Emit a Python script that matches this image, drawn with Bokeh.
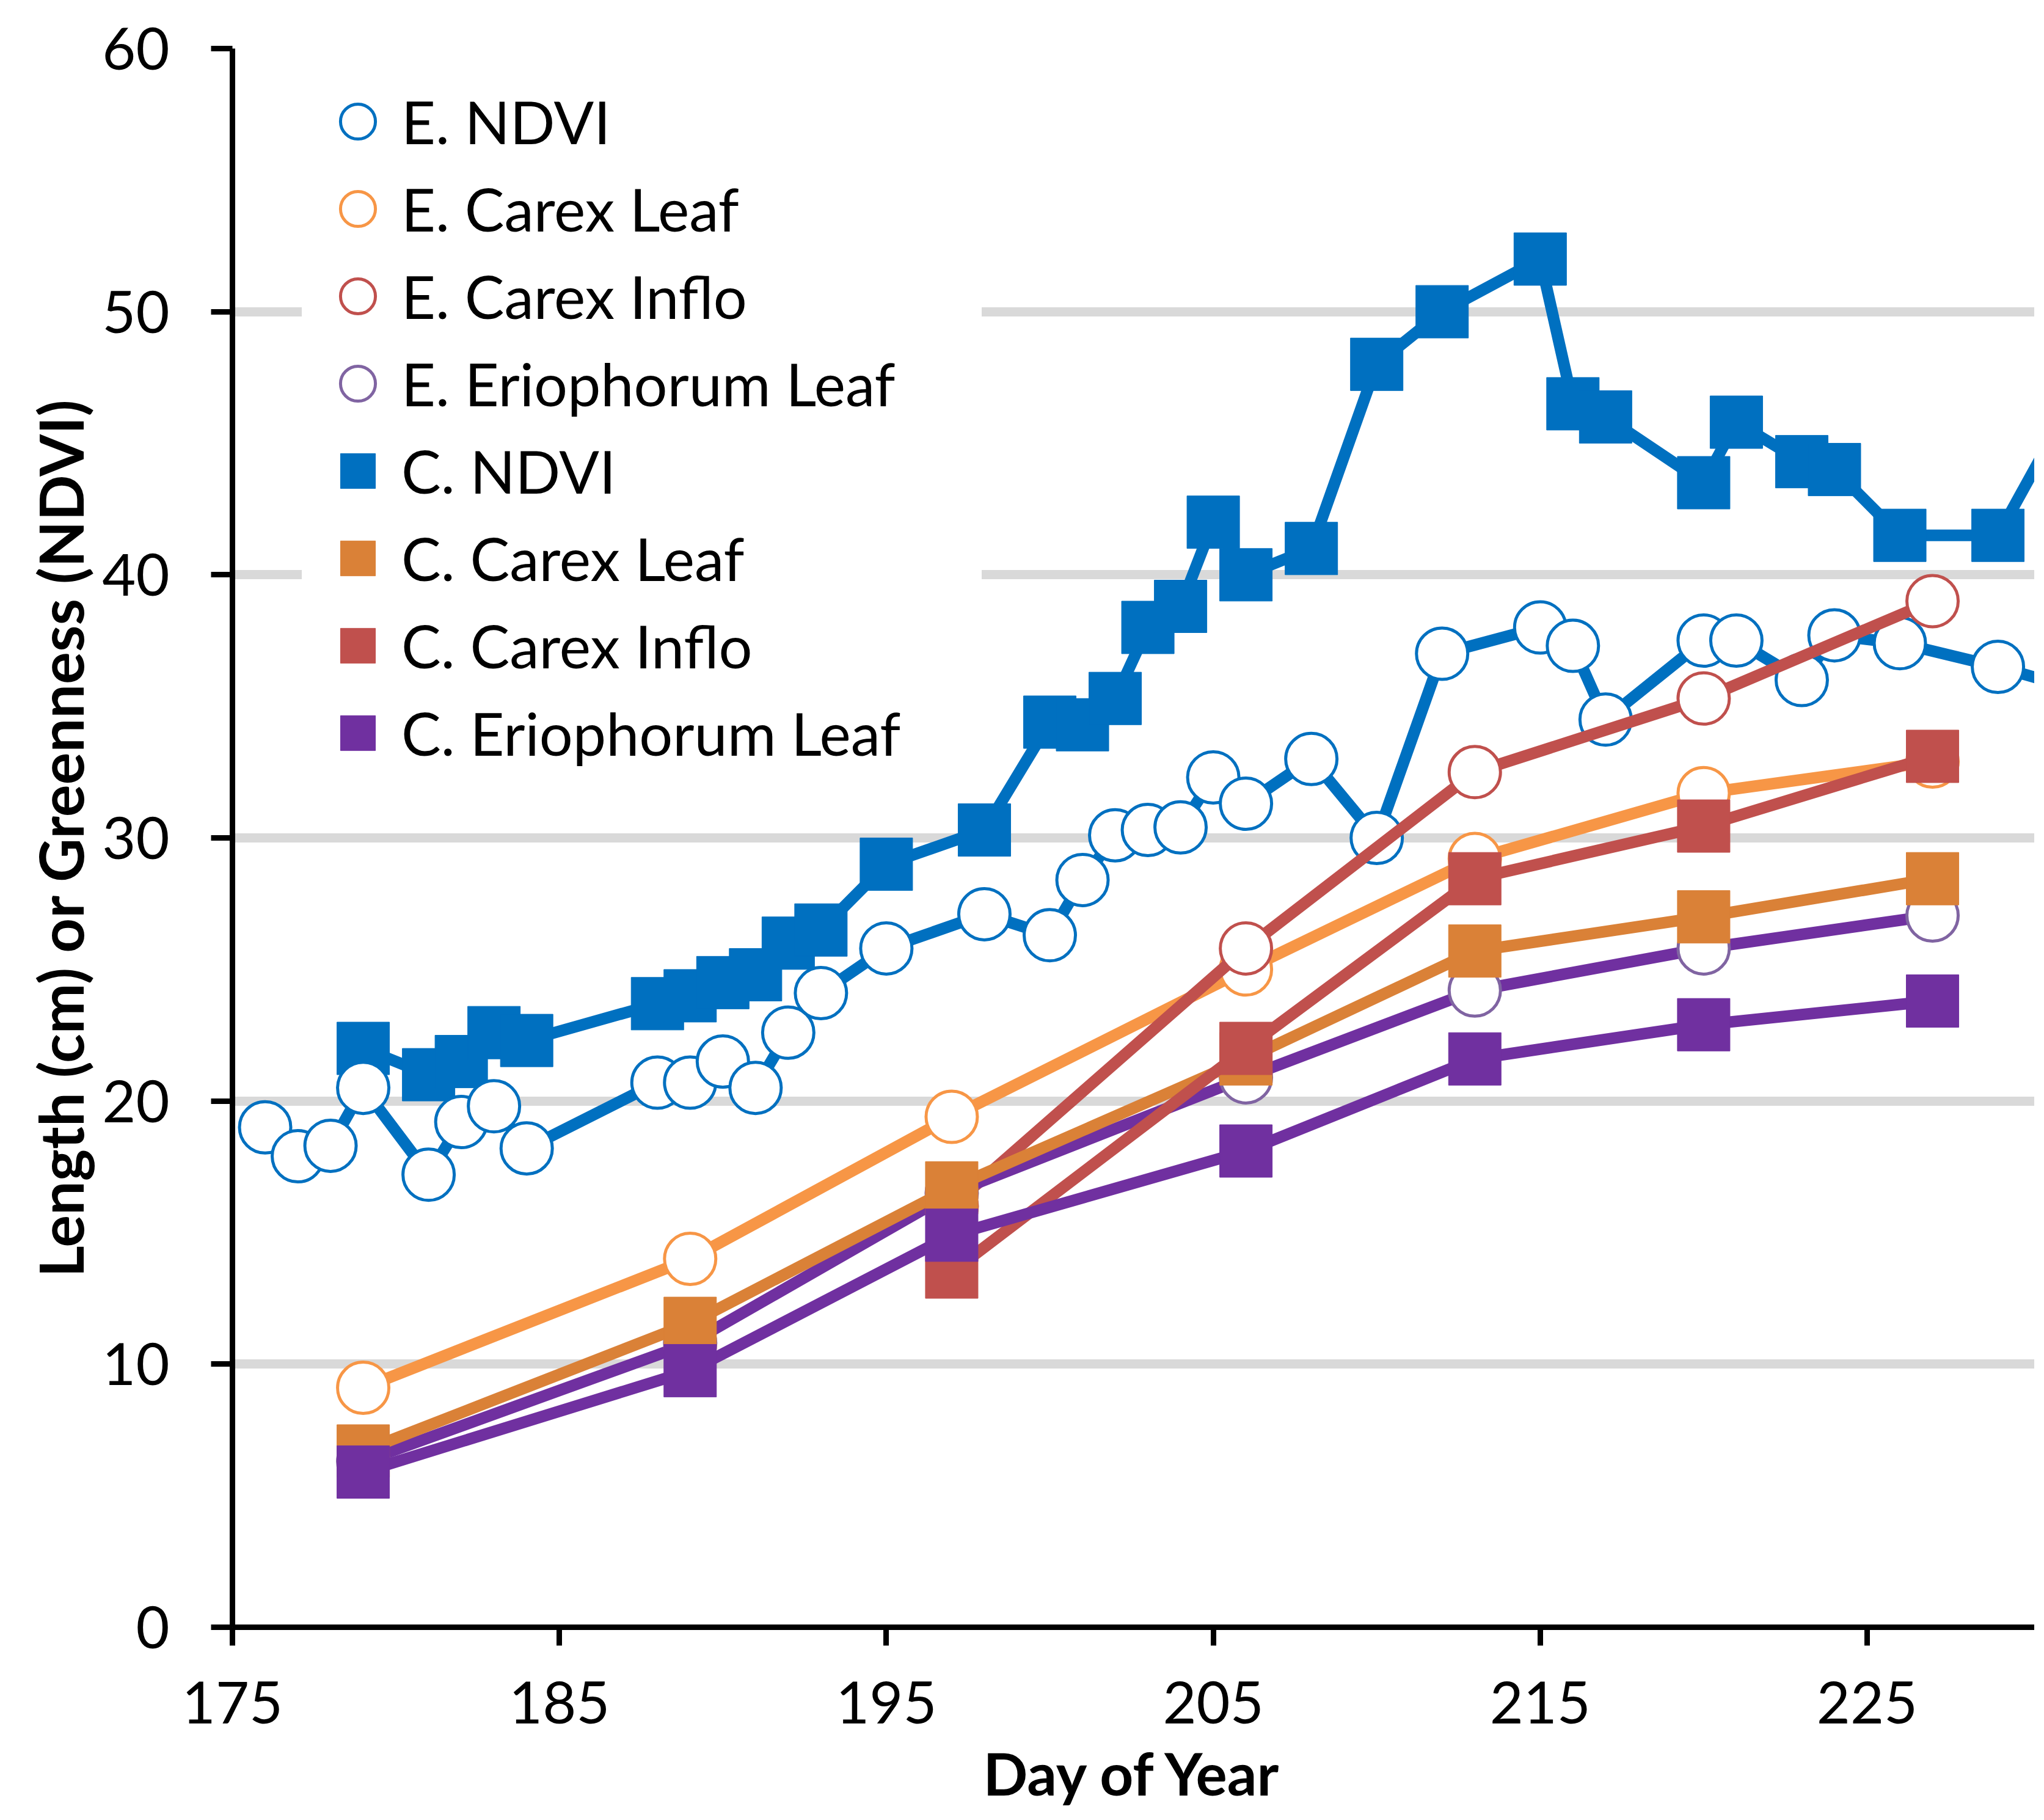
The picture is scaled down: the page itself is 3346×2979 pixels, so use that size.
from bokeh.plotting import figure
from bokeh.models import Legend, LegendItem, FixedTicker, Range1d
from bokeh.embed import file_html
from bokeh.resources import INLINE

# ---------------- data ----------------
e_ndvi_day = [176, 177, 178, 179, 181, 182, 183, 184, 188, 189, 190, 191, 192, 193, 195, 198,
              200, 201, 202, 203, 204, 205, 206, 208, 210, 212, 215, 216, 217, 220, 221, 223,
              224, 226, 229, 231]
e_ndvi_val = [19.0, 17.9, 18.3, 20.5, 17.2, 19.2, 19.8, 18.2, 20.7, 20.7, 21.5, 20.5, 22.6, 24.1,
              25.8, 27.1, 26.3, 28.4, 30.1, 30.3, 30.4, 32.3, 31.3, 33.0, 30.0, 37.0, 38.0, 37.3,
              34.5, 37.5, 37.5, 36.0, 37.7, 37.4, 36.5, 35.8]

c_ndvi_day = [179, 181, 182, 183, 184, 188, 189, 190, 191, 192, 193, 195, 198, 200, 201, 202,
              203, 204, 205, 206, 208, 210, 212, 215, 216, 217, 220, 221, 223, 224, 226, 229, 231]
c_ndvi_val = [22.0, 21.0, 21.5, 22.6, 22.3, 23.7, 24.0, 24.5, 24.8, 26.0, 26.5, 29.0, 30.3, 34.4,
              34.3, 35.3, 38.0, 38.8, 42.0, 40.0, 41.0, 48.0, 50.0, 52.0, 46.5, 46.0, 43.5, 45.8,
              44.3, 44.0, 41.5, 41.5, 46.0]

leaf_day = [179, 189, 197, 206, 213, 220, 227]
inflo_day = [197, 206, 213, 220, 227]

e_carex_leaf = [9.1, 14.0, 19.4, 25.0, 29.2, 31.7, 32.9]
e_carex_inflo = [16.0, 25.8, 32.5, 35.3, 39.0]
e_erio_leaf = [6.3, 10.8, 16.5, 20.9, 24.2, 25.8, 27.05]

c_carex_leaf = [6.7, 11.55, 16.7, 21.6, 25.7, 27.0, 28.45]
c_carex_inflo = [13.5, 22.0, 28.45, 30.45, 33.1]
c_erio_leaf = [5.9, 9.75, 14.9, 18.1, 21.6, 22.9, 23.8]

x_ticks = [175, 185, 195, 205, 215, 225]
y_ticks = [0, 10, 20, 30, 40, 50, 60]

# ---------------- figure ----------------
FONT = "Lato"
W, H = 3330, 2963
LEFT, TOP, BOTTOM = 380, 79, 300
px_per_day = 53.52
x_end = 175 + (W - LEFT) / px_per_day

p = figure(width=W, height=H, output_backend="svg", toolbar_location=None,
           x_range=Range1d(175, x_end), y_range=Range1d(0, 60),
           min_border_left=LEFT, min_border_right=0, min_border_top=TOP,
           min_border_bottom=BOTTOM)
p.outline_line_color = None
p.background_fill_color = "white"
p.border_fill_color = "white"

p.xgrid.visible = False
p.ygrid.grid_line_color = "#D9D9D9"
p.ygrid.grid_line_width = 15

p.xaxis.ticker = FixedTicker(ticks=x_ticks)
p.yaxis.ticker = FixedTicker(ticks=y_ticks)
for ax in (p.xaxis, p.yaxis):
    ax.axis_line_width = 9
    ax.axis_line_color = "black"
    ax.major_tick_line_width = 9
    ax.major_tick_line_color = "black"
    ax.major_tick_in = 0
    ax.minor_tick_line_color = None
    ax.major_label_text_font = FONT
    ax.major_label_text_font_size = "95px"
    ax.major_label_text_color = "black"
    ax.axis_label_text_font = FONT
    ax.axis_label_text_font_style = "bold"
    ax.axis_label_text_color = "black"
p.xaxis.major_tick_out = 30
p.yaxis.major_tick_out = 35
p.xaxis.major_label_standoff = 58
p.yaxis.major_label_standoff = 68

p.yaxis.axis_label = "Length (cm) or Greenness (NDVI)"
p.yaxis.axis_label_text_font_size = "99px"
p.yaxis.axis_label_standoff = 6

p.xaxis.axis_label = "Day of Year"
p.xaxis.axis_label_text_font_size = "96px"
p.xaxis.axis_label_standoff = 20

# ---------------- series ----------------
BLUE = "#0070C0"
ORANGE_L = "#F79646"
ORANGE_D = "#DA8137"
RED = "#C0504D"
PURPLE = "#7030A0"
PURPLE_L = "#8064A2"
LW = 19

def open_series(xs, ys, line_color, edge_color):
    p.line(xs, ys, line_color=line_color, line_width=LW)
    return p.scatter(xs, ys, marker="circle", size=84, fill_color="white",
                     line_color=edge_color, line_width=5)

def closed_series(xs, ys, color):
    p.line(xs, ys, line_color=color, line_width=LW)
    return p.scatter(xs, ys, marker="square", size=86, fill_color=color,
                     line_color=color, line_width=1)

r_c_ndvi = closed_series(c_ndvi_day, c_ndvi_val, BLUE)
r_e_ndvi = open_series(e_ndvi_day, e_ndvi_val, BLUE, BLUE)
r_e_leaf = open_series(leaf_day, e_carex_leaf, ORANGE_L, ORANGE_L)
r_e_inflo = open_series(inflo_day, e_carex_inflo, RED, RED)
r_e_erio = open_series(leaf_day, e_erio_leaf, PURPLE, PURPLE_L)
r_c_leaf = closed_series(leaf_day, c_carex_leaf, ORANGE_D)
r_c_inflo = closed_series(inflo_day, c_carex_inflo, RED)
r_c_erio = closed_series(leaf_day, c_erio_leaf, PURPLE)

items = [
    LegendItem(label="E. NDVI", renderers=[r_e_ndvi]),
    LegendItem(label="E. Carex Leaf", renderers=[r_e_leaf]),
    LegendItem(label="E. Carex Inflo", renderers=[r_e_inflo]),
    LegendItem(label="E. Eriophorum Leaf", renderers=[r_e_erio]),
    LegendItem(label="C. NDVI", renderers=[r_c_ndvi]),
    LegendItem(label="C. Carex Leaf", renderers=[r_c_leaf]),
    LegendItem(label="C. Carex Inflo", renderers=[r_c_inflo]),
    LegendItem(label="C. Eriophorum Leaf", renderers=[r_c_erio]),
]
legend = Legend(items=items, location=(114, 1372), orientation="vertical",
                glyph_width=143, glyph_height=143, label_standoff=0, spacing=0,
                padding=20, margin=0, label_width=930,
                label_text_font=FONT, label_text_font_size="97px", label_text_color="black",
                background_fill_color="white", background_fill_alpha=1.0,
                border_line_alpha=0)
p.add_layout(legend)

open("out.html", "w").write(file_html(p, INLINE))
